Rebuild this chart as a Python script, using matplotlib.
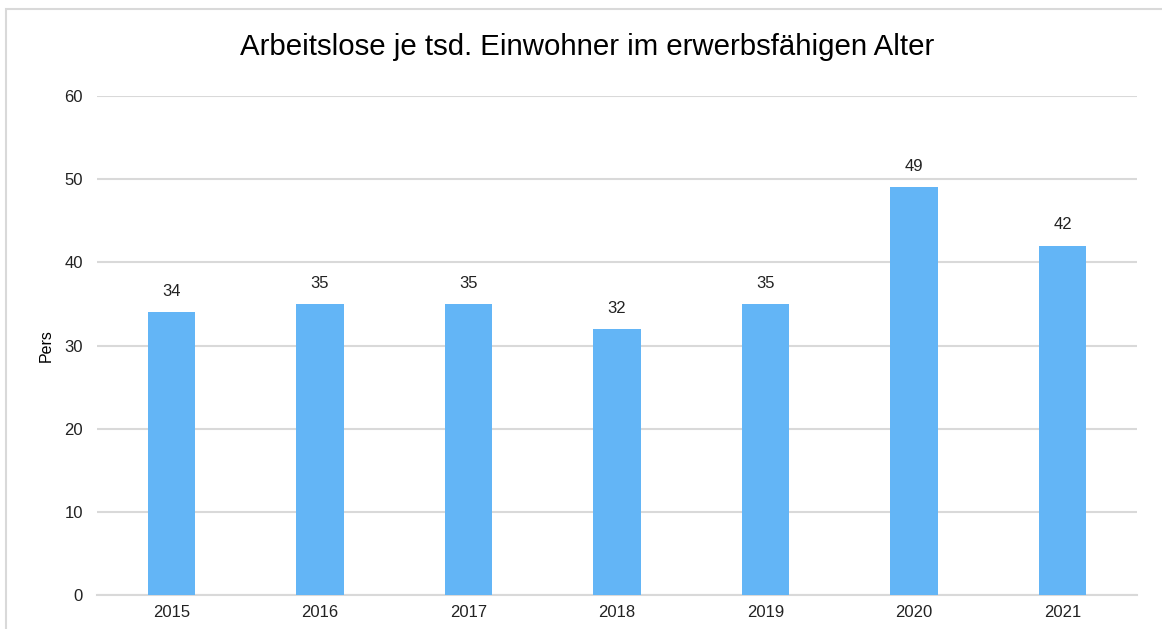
import matplotlib.pyplot as plt
from matplotlib.patches import Rectangle

plt.rcParams['font.family'] = ['Liberation Sans', 'DejaVu Sans']

# data
years = ["2015", "2016", "2017", "2018", "2019", "2020", "2021"]
values = [34, 35, 35, 32, 35, 49, 42]

fig = plt.figure(figsize=(11.62, 6.29), dpi=100)
ax = fig.add_axes([97/1162, 1 - 595/629, 1040/1162, 499/629])

# outer chart frame (only top and left visible in the reference)
fig.patches.append(Rectangle((6/1162, -0.1), 1.2, 1 - 9/629 + 0.1,
                             transform=fig.transFigure, fill=False,
                             edgecolor="#d9d9d9", linewidth=1.5))

x = range(len(years))
bars = ax.bar(x, values, width=0.32, color="#63b5f6", zorder=3)

for xi, v in zip(x, values):
    ax.text(xi, v + 1.6, str(v), ha="center", va="bottom", fontsize=12, color="#222222")

ax.set_xlim(-0.5, len(years) - 0.5)
ax.set_ylim(0, 60)
ax.set_yticks(range(0, 61, 10))
ax.set_xticks(list(x))
ax.set_xticklabels(years)
ax.grid(axis="y", color="#d9d9d9", linewidth=1.5, zorder=0)
for s in ["top", "right", "left"]:
    ax.spines[s].set_visible(False)
ax.spines["bottom"].set_color("#d9d9d9")
ax.spines["bottom"].set_linewidth(1.5)
ax.tick_params(length=0, labelsize=12, colors="#222222")
ax.tick_params(axis="y", pad=10)
ax.tick_params(axis="x", pad=7)

ax.set_ylabel("Pers", fontsize=11.5, labelpad=8)
fig.text(0.5 + 6/1162, 1 - 47/629, "Arbeitslose je tsd. Einwohner im erwerbsfähigen Alter",
         ha="center", va="center", fontsize=21.2)

fig.savefig("out.png", dpi=100, facecolor="white")
